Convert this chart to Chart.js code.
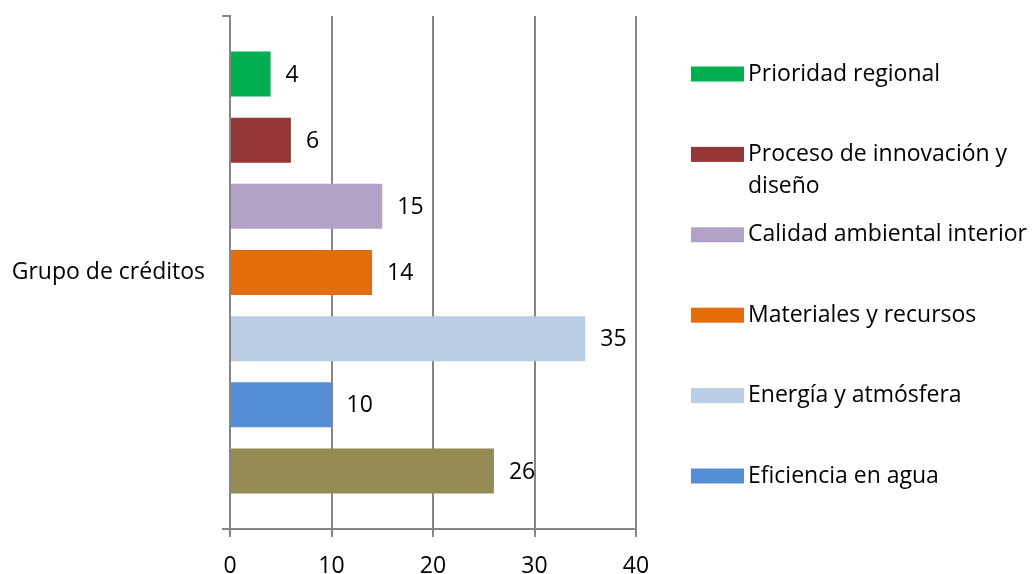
<!DOCTYPE html>
<html>
<head>
<meta charset="utf-8">
<script src="https://cdn.jsdelivr.net/npm/chart.js@4"></script>
<style>
  html, body { margin: 0; padding: 0; background: #fff; }
  #wrap { width: 1033px; height: 574px; }
</style>
</head>
<body>
<div id="wrap"><canvas id="chart"></canvas></div>
<script>
const categories = ['Grupo de créditos'];
const seriesNames = [
    'Prioridad regional',
    'Proceso de innovación y diseño',
    'Calidad ambiental interior',
    'Materiales y recursos',
    'Energía y atmósfera',
    'Eficiencia en agua',
    'Sitios sustentables'
];
const seriesValues = [4, 6, 15, 14, 35, 10, 26];
const seriesColors = ['#00B050', '#953735', '#B3A2C7', '#E46C0A', '#B9CDE5', '#558ED5', '#948A54'];
const xTicks = [0, 10, 20, 30, 40];
// only the first six series fit in the legend column
const legendCount = 6;

const FONT = '"Open Sans", sans-serif';
const FONT_SIZE = 23;
const GRID = '#868686';

// value printed to the right of each bar
const barValues = {
    id: 'barValues',
    afterDatasetsDraw(chart) {
        const ctx = chart.ctx;
        ctx.save();
        ctx.font = FONT_SIZE + 'px ' + FONT;
        ctx.fillStyle = '#000';
        ctx.textAlign = 'left';
        ctx.textBaseline = 'middle';
        chart.data.datasets.forEach((ds, i) => {
            chart.getDatasetMeta(i).data.forEach((bar, j) => {
                ctx.fillText(ds.data[j], bar.x + 15, bar.y + 1);
            });
        });
        ctx.restore();
    }
};

// legend column on the right, with word wrapping
const sideLegend = {
    id: 'sideLegend',
    afterDraw(chart) {
        const ctx = chart.ctx;
        const boxX = 691, boxW = 53, boxH = 15;
        const textX = 748, top = 74, step = 80.4, lineH = 32;
        const maxW = chart.width - textX + 4;
        ctx.save();
        ctx.font = FONT_SIZE + 'px ' + FONT;
        ctx.textAlign = 'left';
        ctx.textBaseline = 'middle';
        chart.data.datasets.slice(0, legendCount).forEach((ds, i) => {
            const y = top + i * step;
            ctx.fillStyle = ds.backgroundColor;
            ctx.fillRect(boxX, y - boxH / 2, boxW, boxH);
            ctx.fillStyle = '#000';
            const words = ds.label.split(' ');
            let line = '', ly = y;
            words.forEach(w => {
                const test = line ? line + ' ' + w : w;
                if (line && ctx.measureText(test).width > maxW) {
                    ctx.fillText(line, textX, ly);
                    line = w;
                    ly += lineH;
                } else {
                    line = test;
                }
            });
            ctx.fillText(line, textX, ly);
        });
        ctx.restore();
    }
};

new Chart(document.getElementById('chart'), {
    type: 'bar',
    data: {
        labels: categories,
        datasets: seriesNames.map((name, i) => ({
            label: name,
            data: [seriesValues[i]],
            backgroundColor: seriesColors[i],
            categoryPercentage: 0.903,
            barPercentage: 0.68
        }))
    },
    options: {
        indexAxis: 'y',
        responsive: true,
        maintainAspectRatio: false,
        animation: false,
        layout: { padding: { top: 16, right: 397, left: 0, bottom: 0 } },
        plugins: {
            legend: { display: false },
            tooltip: { enabled: false }
        },
        scales: {
            x: {
                min: xTicks[0],
                max: xTicks[xTicks.length - 1],
                afterFit(scale) { scale.height = 45; },
                afterBuildTicks(scale) { scale.ticks = xTicks.map(v => ({ value: v })); },
                ticks: {
                    color: '#000',
                    font: { family: FONT, size: FONT_SIZE },
                    padding: 16
                },
                grid: { color: GRID, lineWidth: 2, tickLength: 8 },
                border: { color: GRID, width: 2 }
            },
            y: {
                afterFit(scale) {
                    scale.width = 230;
                    scale.paddingTop = 0;
                    scale.paddingBottom = 0;
                },
                ticks: {
                    color: '#000',
                    font: { family: FONT, size: FONT_SIZE },
                    padding: 17
                },
                grid: { offset: true, drawOnChartArea: false, color: GRID, lineWidth: 2, tickLength: 8 },
                border: { color: GRID, width: 2 }
            }
        }
    },
    plugins: [barValues, sideLegend]
});
</script>
</body>
</html>
